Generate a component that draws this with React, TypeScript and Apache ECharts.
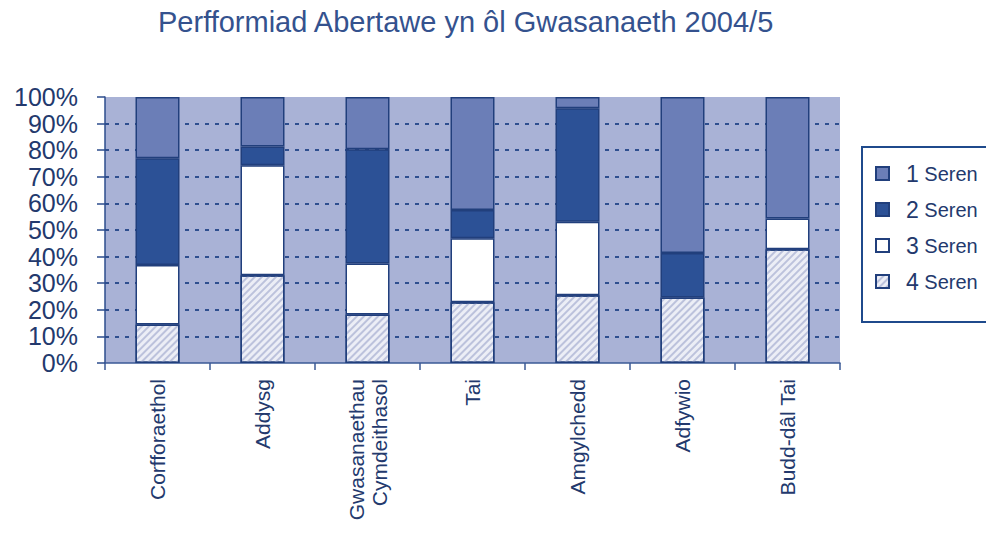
import React, { useEffect, useRef } from "react";
import * as echarts from "echarts";

const categories = [
  "Corfforaethol",
  "Addysg",
  "Gwasanaethau\nCymdeithasol",
  "Tai",
  "Amgylchedd",
  "Adfywio",
  "Budd-dâl Tai",
];
const seren4 = [14.5, 33, 18.2, 22.8, 25.5, 24.6, 42.8];
const seren3 = [22.3, 41.3, 19.2, 24.1, 27.6, 0, 11.5];
const seren2 = [40.2, 7.1, 43, 10.6, 42.7, 16.8, 0];
const seren1 = [23, 18.6, 19.6, 42.5, 4.2, 58.6, 45.7];
const legendNames = ["1 Seren", "2 Seren", "3 Seren", "4 Seren"];

const NAVY = "#213f7c";
const TEXT = "#23396d";

export default function App() {
  const ref = useRef<HTMLDivElement>(null);
  useEffect(() => {
    if (!ref.current) return;
    const chart = echarts.init(ref.current, null, { renderer: "svg" });
    const border = { borderColor: NAVY, borderWidth: 1.5 };
    const mk = (name: string, data: number[], itemStyle: any) => ({
      name,
      type: "bar",
      stack: "total",
      barWidth: 44,
      data: data.map((v) => (v === 0 ? null : v)),
      itemStyle: { ...border, ...itemStyle },
    });
    chart.setOption({
      animation: false,
      textStyle: { fontFamily: "Liberation Sans" },
      title: {
        text: "Perfformiad Abertawe yn ôl Gwasanaeth 2004/5",
        left: 153,
        top: 2,
        textStyle: {
          fontFamily: "Liberation Sans",
          fontSize: 29,
          fontWeight: "normal",
          color: "#34528e",
        },
      },
      graphic: [
        {
          type: "rect",
          z: 1,
          shape: { x: 862, y: 147, width: 160, height: 175 },
          style: { fill: "#ffffff", stroke: "#1f4a8c", lineWidth: 2 },
        },
      ],
      legend: {
        data: legendNames,
        orient: "vertical",
        left: 862,
        top: 147,
        z: 5,
        padding: [15, 20, 28, 13],
        itemGap: 13,
        itemWidth: 13,
        itemHeight: 13,
        icon: "rect",
        borderWidth: 0,
        formatter: (name: string) => {
          const parts = name.split(" ");
          return `{n|${parts[0]}}{s| ${parts.slice(1).join(" ")}}`;
        },
        textStyle: {
          color: TEXT,
          rich: {
            n: { fontSize: 23, color: TEXT, lineHeight: 23, padding: [0, 0, 0, 12], fontFamily: "Liberation Sans" },
            s: { fontSize: 20, color: TEXT, lineHeight: 23, fontFamily: "Liberation Sans" },
          },
        },
      },
      grid: {
        left: 105,
        right: 146,
        top: 97,
        bottom: 170,
        show: true,
        backgroundColor: "#a9b2d6",
        borderWidth: 0,
        containLabel: false,
        outerBoundsMode: "none",
      },
      xAxis: {
        type: "category",
        data: categories,
        axisLine: { show: true, lineStyle: { color: "#3b5a96", width: 1.5 } },
        axisTick: { show: true, length: 7, lineStyle: { color: "#3b5a96", width: 1.5 } },
        axisLabel: {
          rotate: 90,
          margin: 16,
          fontSize: 21,
          color: TEXT,
          fontFamily: "Liberation Sans",
          lineHeight: 23,
        },
      },
      yAxis: {
        type: "value",
        min: 0,
        max: 100,
        interval: 10,
        axisLine: { show: true, lineStyle: { color: "#2d4d8c", width: 1.5 } },
        axisTick: { show: true, length: 8, lineStyle: { color: "#2d4d8c", width: 1.5 } },
        axisLabel: {
          formatter: "{value}%",
          margin: 27,
          fontSize: 25,
          color: TEXT,
          fontFamily: "Liberation Sans",
        },
        splitLine: {
          show: true,
          showMinLine: false,
          showMaxLine: false,
          lineStyle: { color: "#2f4f8f", width: 1.8, type: [4, 6] },
        },
      },
      series: [
        mk("4 Seren", seren4, {
          color: "#eceef6",
          decal: {
            symbol: "rect",
            symbolSize: 1,
            color: "#bcc2dc",
            dashArrayX: [1, 0],
            dashArrayY: [1.2, 2.6],
            rotation: -Math.PI / 4,
          },
        }),
        mk("3 Seren", seren3, { color: "#ffffff" }),
        mk("2 Seren", seren2, { color: "#2c5196" }),
        mk("1 Seren", seren1, { color: "#6b7eb7" }),
      ],
    });
    return () => chart.dispose();
  }, []);
  return (
    <div
      ref={ref}
      style={{ position: "fixed", left: 0, top: 0, width: 986, height: 533, background: "#ffffff" }}
    />
  );
}
